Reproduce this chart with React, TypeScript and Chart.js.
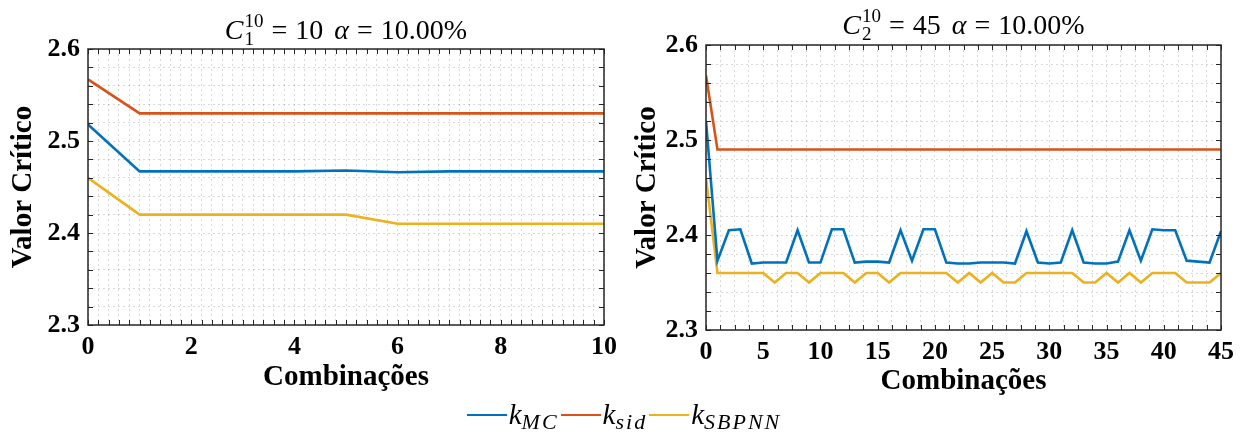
import React, { useEffect, useRef } from 'react';
import { Chart, registerables } from 'chart.js';

Chart.register(...registerables);

// ---------------- Data ----------------
const LEFT_COMBINATIONS = [0, 1, 2, 3, 4, 5, 6, 7, 8, 9, 10];
const LEFT_K_MC = [2.518, 2.467, 2.467, 2.467, 2.467, 2.468, 2.466, 2.467, 2.467, 2.467, 2.467];
const LEFT_K_SID = [2.567, 2.53, 2.53, 2.53, 2.53, 2.53, 2.53, 2.53, 2.53, 2.53, 2.53];
const LEFT_K_SBPNN = [2.46, 2.42, 2.42, 2.42, 2.42, 2.42, 2.41, 2.41, 2.41, 2.41, 2.41];

const RIGHT_COMBINATIONS = [
  0, 1, 2, 3, 4, 5, 6, 7, 8, 9, 10, 11, 12, 13, 14, 15, 16, 17, 18, 19, 20, 21, 22,
  23, 24, 25, 26, 27, 28, 29, 30, 31, 32, 33, 34, 35, 36, 37, 38, 39, 40, 41, 42, 43, 44, 45,
];
const RIGHT_K_MC = [
  2.52, 2.373, 2.405, 2.406, 2.37, 2.371, 2.371, 2.371, 2.405, 2.371, 2.371, 2.406,
  2.406, 2.371, 2.372, 2.372, 2.371, 2.405, 2.373, 2.406, 2.406, 2.371, 2.37, 2.37,
  2.371, 2.371, 2.371, 2.37, 2.404, 2.371, 2.37, 2.371, 2.405, 2.371, 2.37, 2.37,
  2.372, 2.405, 2.373, 2.406, 2.405, 2.405, 2.373, 2.372, 2.371, 2.404,
];
const RIGHT_K_SID = [
  2.568, 2.49, 2.49, 2.49, 2.49, 2.49, 2.49, 2.49, 2.49, 2.49, 2.49, 2.49, 2.49, 2.49,
  2.49, 2.49, 2.49, 2.49, 2.49, 2.49, 2.49, 2.49, 2.49, 2.49, 2.49, 2.49, 2.49, 2.49,
  2.49, 2.49, 2.49, 2.49, 2.49, 2.49, 2.49, 2.49, 2.49, 2.49, 2.49, 2.49, 2.49, 2.49,
  2.49, 2.49, 2.49, 2.49,
];
const RIGHT_K_SBPNN = [
  2.46, 2.36, 2.36, 2.36, 2.36, 2.36, 2.35, 2.36, 2.36, 2.35, 2.36, 2.36, 2.36, 2.35,
  2.36, 2.36, 2.35, 2.36, 2.36, 2.36, 2.36, 2.36, 2.35, 2.36, 2.35, 2.36, 2.35, 2.35,
  2.36, 2.36, 2.36, 2.36, 2.36, 2.35, 2.35, 2.36, 2.35, 2.36, 2.35, 2.36, 2.36, 2.36,
  2.35, 2.35, 2.35, 2.36,
];

const LEFT_X_TICK_LABELS = [0, 2, 4, 6, 8, 10];
const RIGHT_X_TICK_LABELS = [0, 5, 10, 15, 20, 25, 30, 35, 40, 45];
const Y_TICK_LABELS = [2.3, 2.4, 2.5, 2.6];
const LEFT_X_MINOR_STEP = 0.2;
const RIGHT_X_MINOR_STEP = 1.25;
const Y_MINOR_STEP = 0.02;

const SERIES_NAMES = ['k_MC', 'k_sid', 'k_SBPNN'];
const SERIES_SUBSCRIPTS = ['MC', 'sid', 'SBPNN'];
const X_TITLE = 'Combinações';
const Y_TITLE = 'Valor Crítico';
const LEFT_TITLE = { sub: '1', sup: '10', count: '10', alpha: '10.00%' };
const RIGHT_TITLE = { sub: '2', sup: '10', count: '45', alpha: '10.00%' };

// ---------------- Styles ----------------
const COLORS = ['#0072BD', '#D95319', '#EDB120'];
const SERIF = '"Liberation Serif", "Times New Roman", serif';
const TICK_FONT = { family: SERIF, size: 26, weight: 'bold' as const };
const AXIS_TITLE_FONT = { family: SERIF, size: 29, weight: 'bold' as const, lineHeight: 1.2 };
const GRID_COLOR = 'rgba(0,0,0,0.15)';

function buildTicks(labels: number[], step: number) {
  const min = labels[0];
  const max = labels[labels.length - 1];
  const n = Math.round((max - min) / step);
  const out: number[] = [];
  for (let i = 0; i <= n; i++) out.push(+(min + i * step).toFixed(6));
  return out;
}
const isMajor = (v: number, labels: number[]) => labels.some((l) => Math.abs(l - v) < 1e-6);

const boxPlugin = {
  id: 'matlabBox',
  afterDatasetsDraw(chart: any) {
    const { ctx, chartArea: a, scales } = chart;
    ctx.save();
    ctx.strokeStyle = '#262626';
    ctx.lineWidth = 1;
    ctx.beginPath();
    scales.x.ticks.forEach((t: any) => {
      const px = Math.round(scales.x.getPixelForValue(t.value)) + 0.5;
      ctx.moveTo(px, a.bottom);
      ctx.lineTo(px, a.bottom - 5);
      ctx.moveTo(px, a.top);
      ctx.lineTo(px, a.top + 5);
    });
    scales.y.ticks.forEach((t: any) => {
      const py = Math.round(scales.y.getPixelForValue(t.value)) + 0.5;
      ctx.moveTo(a.left, py);
      ctx.lineTo(a.left + 5, py);
      ctx.moveTo(a.right, py);
      ctx.lineTo(a.right - 5, py);
    });
    ctx.stroke();
    ctx.lineWidth = 1.5;
    ctx.strokeRect(a.left, a.top, a.right - a.left, a.bottom - a.top);
    ctx.restore();
  },
};

const mathTitlePlugin = {
  id: 'mathTitle',
  afterDraw(chart: any, _args: any, opts: any) {
    const { ctx, chartArea: a } = chart;
    const t = opts.title;
    const size = opts.size;
    const small = Math.round(size * 0.68);
    const gap = opts.gap;
    const font = (it: boolean, s: number) => `${it ? 'italic ' : ''}${s}px ${SERIF}`;
    type Tok = { text?: string; it?: boolean; sup?: string; sub?: string; after: number };
    const toks: Tok[] = [
      { text: 'C', it: true, after: 1 },
      { sup: t.sup, sub: t.sub, after: gap },
      { text: '=', after: gap },
      { text: t.count, after: gap + 3 },
      { text: 'α', it: true, after: gap },
      { text: '=', after: gap },
      { text: t.alpha, after: 0 },
    ];
    const widths = toks.map((k) => {
      if (k.text !== undefined) {
        ctx.font = font(!!k.it, size);
        return ctx.measureText(k.text).width;
      }
      ctx.font = font(false, small);
      return Math.max(ctx.measureText(k.sup || '').width, ctx.measureText(k.sub || '').width);
    });
    const total = widths.reduce((s, w, i) => s + w + toks[i].after, 0);
    let x = (a.left + a.right) / 2 - total / 2;
    const base = a.top - opts.baselineGap;
    ctx.save();
    ctx.fillStyle = '#000';
    ctx.textBaseline = 'alphabetic';
    ctx.textAlign = 'left';
    toks.forEach((k, i) => {
      if (k.text !== undefined) {
        ctx.font = font(!!k.it, size);
        ctx.fillText(k.text, x, base);
      } else {
        ctx.font = font(false, small);
        ctx.fillText(k.sup || '', x, base - size * 0.42);
        ctx.fillText(k.sub || '', x, base + size * 0.2);
      }
      x += widths[i] + k.after;
    });
    ctx.restore();
  },
};

type PanelProps = {
  xs: number[];
  series: number[][];
  xLabels: number[];
  xStep: number;
  title: typeof LEFT_TITLE;
  left: number;
  width: number;
  height: number;
  padTop: number;
  padRight: number;
  yAxisWidth: number;
  xAxisHeight: number;
  yTitlePad: number;
  xTitlePad: number;
  titleGap: number;
};

function Panel(p: PanelProps) {
  const ref = useRef<HTMLCanvasElement>(null);
  useEffect(() => {
    if (!ref.current) return;
    const xTicks = buildTicks(p.xLabels, p.xStep);
    const yTicks = buildTicks(Y_TICK_LABELS, Y_MINOR_STEP);
    const chart = new Chart(ref.current, {
      type: 'line',
      data: {
        datasets: p.series.map((vals, i) => ({
          label: SERIES_NAMES[i],
          data: p.xs.map((x, j) => ({ x, y: vals[j] })),
          borderColor: COLORS[i],
          backgroundColor: COLORS[i],
          borderWidth: 2.6,
          pointRadius: 0,
          tension: 0,
          fill: false,
        })),
      },
      options: {
        animation: false,
        responsive: false,
        maintainAspectRatio: false,
        layout: { padding: { top: p.padTop, right: p.padRight, left: 0, bottom: 0 } },
        plugins: {
          legend: { display: false },
          tooltip: { enabled: false },
          title: { display: false },
          mathTitle: { title: p.title, size: 28, gap: 8, baselineGap: p.titleGap },
        } as any,
        scales: {
          x: {
            type: 'linear',
            min: p.xLabels[0],
            max: p.xLabels[p.xLabels.length - 1],
            afterBuildTicks: (s: any) => {
              s.ticks = xTicks.map((value) => ({ value }));
            },
            afterFit: (s: any) => {
              s.height = p.xAxisHeight;
            },
            ticks: {
              autoSkip: false,
              maxRotation: 0,
              minRotation: 0,
              padding: 7,
              color: '#000',
              font: TICK_FONT,
              callback: (v: any) => (isMajor(Number(v), p.xLabels) ? String(Math.round(Number(v))) : ''),
            },
            grid: { color: GRID_COLOR, lineWidth: 1, drawTicks: false },
            border: { display: false, dash: [2, 3] },
            title: {
              display: true,
              text: X_TITLE,
              color: '#000',
              font: AXIS_TITLE_FONT,
              padding: { top: 0, bottom: p.xTitlePad },
            },
          },
          y: {
            type: 'linear',
            min: Y_TICK_LABELS[0],
            max: Y_TICK_LABELS[Y_TICK_LABELS.length - 1],
            afterBuildTicks: (s: any) => {
              s.ticks = yTicks.map((value) => ({ value }));
            },
            afterFit: (s: any) => {
              s.width = p.yAxisWidth;
            },
            ticks: {
              autoSkip: false,
              padding: 8,
              color: '#000',
              font: TICK_FONT,
              callback: (v: any) => (isMajor(Number(v), Y_TICK_LABELS) ? Number(v).toFixed(1) : ''),
            },
            grid: { color: GRID_COLOR, lineWidth: 1, drawTicks: false },
            border: { display: false, dash: [2, 3] },
            title: {
              display: true,
              text: Y_TITLE,
              color: '#000',
              font: AXIS_TITLE_FONT,
              padding: { top: p.yTitlePad, bottom: 0 },
            },
          },
        },
      } as any,
      plugins: [boxPlugin, mathTitlePlugin],
    });
    return () => chart.destroy();
  }, []);
  return (
    <canvas
      ref={ref}
      width={p.width}
      height={p.height}
      style={{ position: 'absolute', left: p.left, top: 0, width: p.width, height: p.height }}
    />
  );
}

function Legend() {
  return (
    <div
      style={{
        position: 'absolute',
        left: 0,
        top: 400,
        width: 1248,
        textAlign: 'center',
        fontFamily: SERIF,
        fontStyle: 'italic',
        fontSize: 29,
        lineHeight: '28px',
        whiteSpace: 'nowrap',
        color: '#000',
      }}
    >
      {SERIES_SUBSCRIPTS.map((sub, i) => (
        <span key={sub}>
          <span
            style={{
              display: 'inline-block',
              width: 40,
              height: 2.5,
              background: COLORS[i],
              verticalAlign: 8,
              marginRight: 2,
              marginLeft: i === 0 ? 0 : 2,
            }}
          />
          k
          <span style={{ fontSize: 22, position: 'relative', top: 5, letterSpacing: 2 }}>{sub}</span>
        </span>
      ))}
    </div>
  );
}

export default function App() {
  return (
    <div style={{ position: 'absolute', left: 0, top: 0, width: 1248, height: 441, background: '#fff' }}>
      <Panel
        xs={LEFT_COMBINATIONS}
        series={[LEFT_K_MC, LEFT_K_SID, LEFT_K_SBPNN]}
        xLabels={LEFT_X_TICK_LABELS}
        xStep={LEFT_X_MINOR_STEP}
        title={LEFT_TITLE}
        left={0}
        width={640}
        height={400}
        padTop={49}
        padRight={36}
        yAxisWidth={88}
        xAxisHeight={75}
        yTitlePad={6}
        xTitlePad={5}
        titleGap={10}
      />
      <Panel
        xs={RIGHT_COMBINATIONS}
        series={[RIGHT_K_MC, RIGHT_K_SID, RIGHT_K_SBPNN]}
        xLabels={RIGHT_X_TICK_LABELS}
        xStep={RIGHT_X_MINOR_STEP}
        title={RIGHT_TITLE}
        left={620}
        width={628}
        height={400}
        padTop={45}
        padRight={27}
        yAxisWidth={86}
        xAxisHeight={70}
        yTitlePad={10}
        xTitlePad={1}
        titleGap={11}
      />
      <Legend />
    </div>
  );
}
